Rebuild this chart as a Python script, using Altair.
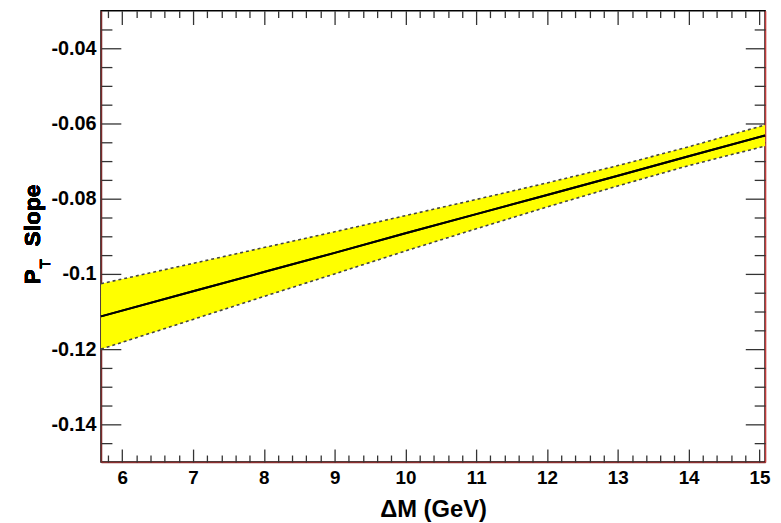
import altair as alt
import pandas as pd

# ---- data ----
dm = [5.7, 7, 8, 9, 10, 11, 12, 13, 14, 15.08]
slope = [-0.1113, -0.1046, -0.0995, -0.0944, -0.0892, -0.0841, -0.0790, -0.0739, -0.0687, -0.0632]
upper = [-0.1026, -0.0972, -0.0930, -0.0888, -0.0845, -0.0802, -0.0758, -0.0712, -0.0662, -0.0604]
lower = [-0.1200, -0.1121, -0.1060, -0.1000, -0.0939, -0.0880, -0.0822, -0.0766, -0.0712, -0.0660]

x_major = [6, 7, 8, 9, 10, 11, 12, 13, 14, 15]
x_minor = [5.8,
           6.2, 6.4, 6.6, 6.8, 7.2, 7.4, 7.6, 7.8, 8.2, 8.4, 8.6, 8.8,
           9.2, 9.4, 9.6, 9.8, 10.2, 10.4, 10.6, 10.8, 11.2, 11.4, 11.6, 11.8,
           12.2, 12.4, 12.6, 12.8, 13.2, 13.4, 13.6, 13.8, 14.2, 14.4, 14.6, 14.8]
y_major = [-0.14, -0.12, -0.1, -0.08, -0.06, -0.04]
y_minor = [-0.145, -0.135, -0.13, -0.125, -0.115, -0.11, -0.105, -0.095, -0.09,
           -0.085, -0.075, -0.07, -0.065, -0.055, -0.05, -0.045, -0.035]

x_domain = [5.7, 15.08]
y_domain = [-0.15, -0.03]

df = pd.DataFrame({"dm": dm, "slope": slope, "upper": upper, "lower": lower})

FONT = "Liberation Sans"
xs = alt.Scale(domain=x_domain, nice=False, zero=False)
ys = alt.Scale(domain=y_domain, nice=False, zero=False)


def tick_axis(orient, values, size, domain=False, domain_color="black"):
    return alt.Axis(orient=orient, values=values, labels=False, title=None,
                    grid=False, domain=domain, domainColor=domain_color,
                    domainWidth=1.5, ticks=True,
                    tickSize=alt.ExprRef(expr=str(-size)),
                    tickColor="#333333", tickWidth=1.3)


label_x_axis = alt.Axis(orient="bottom", values=x_major, ticks=False, domain=True,
                        domainColor="#8b2e2e", domainWidth=1.5, grid=False,
                        labelPadding=7, labelFlush=False, format="d",
                        labelFontSize=19,
                        title="ΔM (GeV)", titleFontSize=24, titlePadding=10,
                        titleFont=FONT, titleFontWeight="bold", titleColor="black")
label_y_axis = alt.Axis(orient="left", values=y_major, ticks=False, domain=True,
                        domainColor="#7a2a2a", domainWidth=1.5, grid=False,
                        labelPadding=5, labelFlush=False, labelFontSize=20,
                        labelExpr="replace(format(datum.value, '.2~f'), '\u2212', '-')",
                        title=None)

base = alt.Chart(df)

band = base.mark_area(color="#ffff00", opacity=1).encode(
    x=alt.X("dm:Q", scale=xs, axis=label_x_axis),
    y=alt.Y("upper:Q", scale=ys, axis=label_y_axis),
    y2="lower:Q",
)

up_line = base.mark_line(color="#444444", strokeDash=[3, 3], strokeWidth=1.6).encode(
    x=alt.X("dm:Q", scale=xs, axis=tick_axis("bottom", x_major, 13)),
    y=alt.Y("upper:Q", scale=ys, axis=tick_axis("left", y_major, 20)),
)

lo_line = base.mark_line(color="#444444", strokeDash=[3, 3], strokeWidth=1.6).encode(
    x=alt.X("dm:Q", scale=xs, axis=tick_axis("bottom", x_minor, 7)),
    y=alt.Y("lower:Q", scale=ys, axis=tick_axis("left", y_minor, 11)),
)

center = base.mark_line(color="black", strokeWidth=2).encode(
    x=alt.X("dm:Q", scale=xs, axis=tick_axis("top", x_major, 14)),
    y=alt.Y("slope:Q", scale=ys, axis=tick_axis("right", y_major, 20, True, "#c23b3b")),
)

center2 = base.mark_line(color="black", strokeWidth=2).encode(
    x=alt.X("dm:Q", scale=xs, axis=tick_axis("top", x_minor, 7)),
    y=alt.Y("slope:Q", scale=ys, axis=tick_axis("right", y_minor, 11)),
)

title_p = alt.Chart(df).mark_text(text="P", angle=270, font=FONT, fontWeight="bold",
                                  fontSize=23, align="center", baseline="middle",
                                  color="black").encode(x=alt.value(-69), y=alt.value(269))
title_t = alt.Chart(df).mark_text(text="T", angle=270, font=FONT, fontWeight="bold",
                                  fontSize=15, align="center", baseline="middle",
                                  color="black").encode(x=alt.value(-57), y=alt.value(256))
title_s = alt.Chart(df).mark_text(text="Slope", angle=270, font=FONT, fontWeight="bold",
                                  fontSize=23, align="center", baseline="middle",
                                  color="black").encode(x=alt.value(-69), y=alt.value(207))

chart = alt.layer(band, up_line, lo_line, center, center2, title_p, title_t, title_s).resolve_axis(
    x="independent", y="independent"
).properties(
    width=671, height=456,
    padding={"left": 94, "top": 0, "right": 8, "bottom": 59},
    autosize=alt.AutoSizeParams(type="none"),
    background="white",
).configure_view(
    stroke="black", strokeWidth=1.5
).configure_axis(
    labelFont=FONT, labelFontWeight="bold", labelFontSize=18, labelColor="black",
)

chart.save("out.html", embed_options={"renderer": "svg", "actions": False})
